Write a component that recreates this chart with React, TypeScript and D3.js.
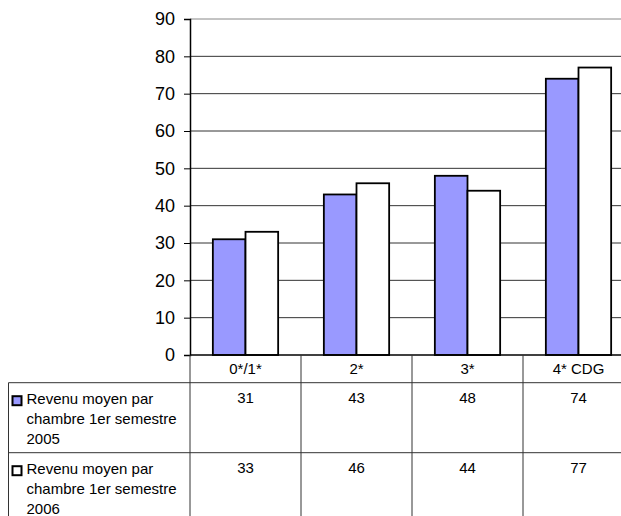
import { useEffect, useRef } from "react";
import * as d3 from "d3";

// data
const categories = ["0*/1*", "2*", "3*", "4* CDG"];
const seriesNames = [
  "Revenu moyen par chambre 1er semestre 2005",
  "Revenu moyen par chambre 1er semestre 2006",
];
const values2005 = [31, 43, 48, 74];
const values2006 = [33, 46, 44, 77];
const yTicks = [0, 10, 20, 30, 40, 50, 60, 70, 80, 90];
const seriesLines = [
  ["Revenu moyen par", "chambre 1er semestre", "2005"],
  ["Revenu moyen par", "chambre 1er semestre", "2006"],
];
const seriesColors = ["#9999ff", "#ffffff"];

const FONT = "Liberation Sans, Arial, sans-serif";

export default function App() {
  const ref = useRef<SVGSVGElement>(null);

  useEffect(() => {
    if (!ref.current) return;
    const svg = d3.select(ref.current);
    svg.selectAll("*").remove();

    const W = 621;
    const H = 516;
    const plotLeft = 190;
    const plotRight = 634;
    const plotTop = 19;
    const plotBottom = 355;
    const tableLeft = 8.5;
    const headerBottom = 382.7;
    const rowH = 70;

    svg.attr("width", W).attr("height", H).attr("viewBox", `0 0 ${W} ${H}`);

    const x0 = d3.scaleBand().domain(categories).range([plotLeft, plotRight]);
    const x1 = d3
      .scaleBand()
      .domain(seriesNames)
      .range([0, x0.bandwidth()])
      .paddingOuter(0.7);
    const y = d3.scaleLinear().domain([0, 90]).range([plotBottom, plotTop]);

    const g = svg.append("g");

    // grid
    g.append("g")
      .selectAll("line")
      .data(yTicks.filter((t) => t > 0))
      .join("line")
      .attr("x1", plotLeft)
      .attr("x2", plotRight)
      .attr("y1", (d) => y(d))
      .attr("y2", (d) => y(d))
      .attr("stroke", (d) => (d === 90 ? "#888" : "#333"))
      .attr("stroke-width", 1);

    // bars
    const series = [values2005, values2006];
    series.forEach((vals, si) => {
      g.append("g")
        .selectAll("rect")
        .data(vals)
        .join("rect")
        .attr("x", (_, i) => (x0(categories[i]) ?? 0) + (x1(seriesNames[si]) ?? 0))
        .attr("y", (d) => y(d))
        .attr("width", x1.bandwidth())
        .attr("height", (d) => y(0) - y(d))
        .attr("fill", seriesColors[si])
        .attr("stroke", "#000")
        .attr("stroke-width", 1.8);
    });

    // y axis
    g.append("g")
      .attr("transform", `translate(${plotLeft},0)`)
      .call(d3.axisLeft(y).tickValues(yTicks).tickSize(6).tickPadding(9))
      .call((a) => {
        a.select(".domain").attr("stroke", "#000").attr("stroke-width", 1.5);
        a.selectAll("line").attr("stroke", "#000");
        a.selectAll("text")
          .attr("font-size", 18)
          .attr("font-family", FONT)
          .attr("fill", "#000");
      });

    // baseline
    g.append("line")
      .attr("x1", plotLeft)
      .attr("x2", plotRight)
      .attr("y1", y(0))
      .attr("y2", y(0))
      .attr("stroke", "#000")
      .attr("stroke-width", 1.5);

    // data table
    const tbl = svg.append("g").attr("stroke", "#333").attr("stroke-width", 1);
    const tableBottom = headerBottom + rowH * 2;
    tbl.append("line")
      .attr("x1", tableLeft).attr("x2", plotRight)
      .attr("y1", headerBottom).attr("y2", headerBottom);
    tbl.append("line")
      .attr("x1", tableLeft).attr("x2", plotRight)
      .attr("y1", headerBottom + rowH).attr("y2", headerBottom + rowH);
    tbl.append("line")
      .attr("x1", tableLeft).attr("x2", plotRight)
      .attr("y1", tableBottom).attr("y2", tableBottom);
    tbl.append("line")
      .attr("x1", tableLeft).attr("x2", tableLeft)
      .attr("y1", headerBottom).attr("y2", tableBottom);
    tbl.selectAll("line.col")
      .data([...categories.map((c) => x0(c) ?? 0), plotRight])
      .join("line")
      .attr("class", "col")
      .attr("x1", (d) => d)
      .attr("x2", (d) => d)
      .attr("y1", (d) => (d === plotLeft ? plotBottom : plotBottom))
      .attr("y2", tableBottom);

    // category labels
    svg.append("g")
      .selectAll("text")
      .data(categories)
      .join("text")
      .attr("x", (d) => (x0(d) ?? 0) + x0.bandwidth() / 2)
      .attr("y", 373.5)
      .attr("text-anchor", "middle")
      .attr("font-size", 15)
      .attr("font-family", FONT)
      .text((d) => d);

    // rows
    series.forEach((vals, si) => {
      const top = headerBottom + si * rowH;
      const row = svg.append("g");
      row.append("rect")
        .attr("x", 12.5)
        .attr("y", top + 13.5)
        .attr("width", 9)
        .attr("height", 9)
        .attr("fill", seriesColors[si])
        .attr("stroke", "#000")
        .attr("stroke-width", 2);
      row.selectAll("text.lbl")
        .data(seriesLines[si])
        .join("text")
        .attr("class", "lbl")
        .attr("x", 26.5)
        .attr("y", (_, i) => top + 21 + i * 20)
        .attr("font-size", 15)
        .attr("font-family", FONT)
        .text((d) => d);
      row.selectAll("text.val")
        .data(vals)
        .join("text")
        .attr("class", "val")
        .attr("x", (_, i) => (x0(categories[i]) ?? 0) + x0.bandwidth() / 2)
        .attr("y", top + 20.5)
        .attr("text-anchor", "middle")
        .attr("font-size", 15)
        .attr("font-family", FONT)
        .text((d) => d);
    });
  }, []);

  return (
    <div style={{ position: "absolute", left: 0, top: 0 }}>
      <svg ref={ref} style={{ display: "block" }} />
    </div>
  );
}
